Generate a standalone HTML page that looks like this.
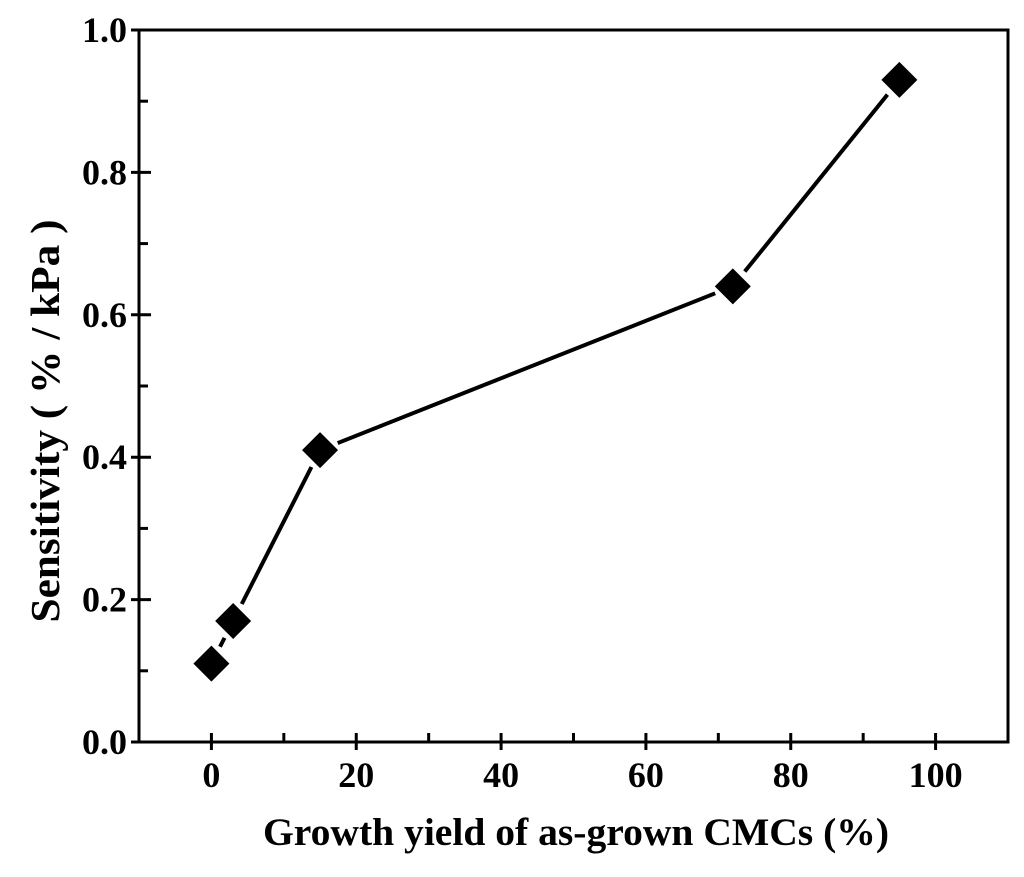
<!DOCTYPE html>
<html><head><meta charset="utf-8"><style>
body{margin:0;background:#fff}
text{font-family:"Liberation Serif",serif;font-weight:bold;fill:#000}
</style></head><body>
<svg id="chart" width="1024" height="872" xmlns="http://www.w3.org/2000/svg">
<rect x="139" y="30" width="869" height="712" fill="none" stroke="#000" stroke-width="3"/>
<g id="ticks"></g>
<g id="series"></g>
<text x="576" y="845" text-anchor="middle" font-size="39" textLength="626" lengthAdjust="spacingAndGlyphs">Growth yield of as-grown CMCs (%)</text>
<text transform="translate(59,421) rotate(-90)" text-anchor="middle" font-size="41" textLength="403" lengthAdjust="spacingAndGlyphs">Sensitivity ( % / kPa )</text>
</svg>
<script>
const xVals=[0,3,15,72,95];
const yVals=[0.11,0.17,0.41,0.64,0.93];
const xTicks=[0,20,40,60,80,100];
const yTicks=[0.0,0.2,0.4,0.6,0.8,1.0];
const xMinor=[-10,10,30,50,70,90,110];
const yMinor=[0.1,0.3,0.5,0.7,0.9];
const L=139,R=1008,T=30,B=742,xmin=-10,xmax=110,ymin=0,ymax=1;
const sx=v=>L+(v-xmin)/(xmax-xmin)*(R-L);
const sy=v=>B-(v-ymin)/(ymax-ymin)*(B-T);
const NS="http://www.w3.org/2000/svg";
const tg=document.getElementById('ticks'),sg=document.getElementById('series');
function mk(tag,attrs,parent){const e=document.createElementNS(NS,tag);for(const k in attrs)e.setAttribute(k,attrs[k]);parent.appendChild(e);return e;}
xTicks.forEach(v=>{
 const l=mk('line',{x1:sx(v),x2:sx(v),y1:B-9,y2:B+8,stroke:'#000','stroke-width':3},tg);
 
 
 const t=mk('text',{x:sx(v),y:B+45,'text-anchor':'middle','font-size':36},tg);t.textContent=v;
 
 
});
xMinor.forEach(v=>{const l=mk('line',{x1:sx(v),x2:sx(v),y1:B-9,y2:B,stroke:'#000','stroke-width':3},tg);
 
 });
yTicks.forEach(v=>{
 const l=mk('line',{x1:L-8,x2:L+12,y1:sy(v),y2:sy(v),stroke:'#000','stroke-width':3},tg);
 
 
 const t=mk('text',{x:L-12,y:sy(v)+12,'text-anchor':'end','font-size':36},tg);t.textContent=v.toFixed(1);
 
 
});
yMinor.forEach(v=>{const l=mk('line',{x1:L,x2:L+9,y1:sy(v),y2:sy(v),stroke:'#000','stroke-width':3},tg);
 
 });
const gap=19;
for(let i=0;i<xVals.length-1;i++){
 const x1=sx(xVals[i]),y1=sy(yVals[i]),x2=sx(xVals[i+1]),y2=sy(yVals[i+1]);
 const d=Math.hypot(x2-x1,y2-y1);if(d<2*gap)continue;
 const ux=(x2-x1)/d,uy=(y2-y1)/d;
 const l=mk('line',{x1:x1+ux*gap,y1:y1+uy*gap,x2:x2-ux*gap,y2:y2-uy*gap,stroke:'#000','stroke-width':4},sg);
 
 
}
xVals.forEach((v,i)=>{
 const cx=sx(v),cy=sy(yVals[i]),r=18;
 const p=mk('polygon',{points:`${cx},${cy-r} ${cx+r},${cy} ${cx},${cy+r} ${cx-r},${cy}`,fill:'#000'},sg);
 
 
});
</script>
</body></html>
